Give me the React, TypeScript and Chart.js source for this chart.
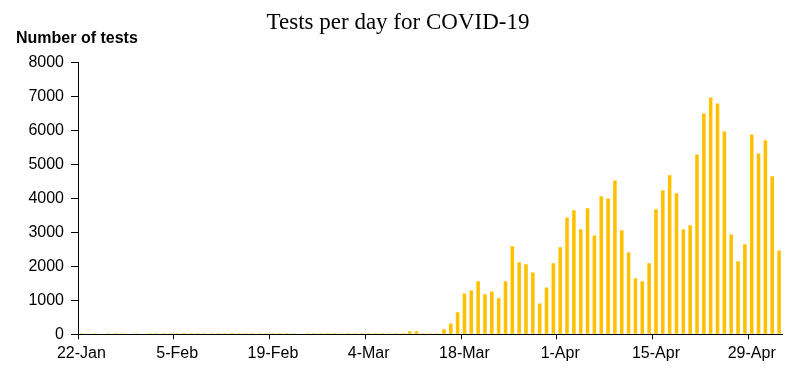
import React, { useEffect, useRef } from "react";
import { Chart, registerables } from "chart.js";

Chart.register(...registerables);

const chartTitle = "Tests per day for COVID-19";
const yAxisTitle = "Number of tests";

// Daily test counts, starting 22-Jan
const testsPerDay: number[] = [
  30, 0, 30, 0, 30, 30, 30, 0, 30, 0,
  30, 30, 30, 30, 30, 30, 30, 30, 30, 30,
  30, 30, 30, 30, 30, 30, 30, 30, 30, 30,
  30, 30, 0, 30, 30, 30, 30, 30, 30, 30,
  30, 30, 30, 30, 30, 30, 30, 30, 90, 90,
  30, 30, 30, 150, 320, 650, 1200, 1290, 1560, 1180,
  1260, 1060, 1560, 2590, 2120, 2060, 1820, 910, 1380, 2090,
  2560, 3440, 3650, 3090, 3710, 2910, 4060, 4000, 4530, 3060,
  2410, 1650, 1560, 2090, 3680, 4240, 4680, 4150, 3090, 3210,
  5290, 6500, 6970, 6790, 5970, 2940, 2150, 2650, 5880, 5320,
  5710, 4650, 2470,
];

const tickLabels = ["22-Jan", "5-Feb", "19-Feb", "4-Mar", "18-Mar", "1-Apr", "15-Apr", "29-Apr"];
const yTicks = [0, 1000, 2000, 3000, 4000, 5000, 6000, 7000, 8000];

const monthNames = ["Jan", "Feb", "Mar", "Apr", "May", "Jun", "Jul", "Aug", "Sep", "Oct", "Nov", "Dec"];
const categories: string[] = testsPerDay.map((_, i) => {
  const d = new Date(2020, 0, 22 + i);
  return `${d.getDate()}-${monthNames[d.getMonth()]}`;
});

const headerPlugin = {
  id: "headerText",
  afterDraw(chart: any) {
    const ctx = chart.ctx;
    ctx.save();
    ctx.fillStyle = "#000";
    ctx.font = '23px "Liberation Serif", "Times New Roman", serif';
    ctx.textAlign = "center";
    ctx.textBaseline = "alphabetic";
    ctx.fillText(chartTitle, 398, 29);
    ctx.font = 'bold 16px "Liberation Sans", Arial, sans-serif';
    ctx.textAlign = "left";
    ctx.fillText(yAxisTitle, 16, 43);
    ctx.restore();
  },
};

export default function App() {
  const canvasRef = useRef<HTMLCanvasElement | null>(null);

  useEffect(() => {
    document.body.style.margin = "0";
    const canvas = canvasRef.current;
    if (!canvas) return;
    const font = { family: '"Liberation Sans", Arial, sans-serif', size: 16 };
    const chart = new Chart(canvas, {
      type: "bar",
      data: {
        labels: categories,
        datasets: [
          {
            data: testsPerDay,
            backgroundColor: "#FFC000",
            borderWidth: 0,
            barPercentage: 0.52,
            categoryPercentage: 1,
          },
        ],
      },
      plugins: [headerPlugin],
      options: {
        responsive: false,
        animation: false,
        devicePixelRatio: 1,
        layout: { padding: { left: 16, right: 18.5, top: 62.5, bottom: 10.5 } },
        plugins: {
          legend: { display: false },
          title: { display: false },
          tooltip: { enabled: false },
        },
        scales: {
          x: {
            type: "category",
            offset: true,
            grid: {
              display: true,
              drawOnChartArea: false,
              drawTicks: true,
              tickLength: 5,
              offset: true,
              lineWidth: 1,
              color: (c: any) => (c.index % 14 === 0 ? "#000" : "rgba(0,0,0,0)"),
              tickColor: (c: any) => (c.index % 14 === 0 ? "#000" : "rgba(0,0,0,0)"),
            },
            border: { display: true, color: "#000", width: 1 },
            ticks: {
              autoSkip: false,
              maxRotation: 0,
              minRotation: 0,
              padding: 5,
              color: "#000",
              font,
              callback: (_v: any, idx: number) =>
                tickLabels.includes(categories[idx]) ? categories[idx] : "",
            },
          },
          y: {
            min: yTicks[0],
            max: yTicks[yTicks.length - 1],
            afterFit: (scale: any) => {
              scale.width = 62;
            },
            afterBuildTicks: (scale: any) => {
              scale.ticks = yTicks.map((v) => ({ value: v }));
            },
            grid: {
              display: true,
              drawOnChartArea: false,
              drawTicks: true,
              tickLength: 7,
              color: "#000",
              tickColor: "#000",
            },
            border: { display: true, color: "#000", width: 1 },
            ticks: {
              padding: 7,
              color: "#000",
              font,
              callback: (v: any) => String(v),
            },
          },
        },
      },
    });
    return () => chart.destroy();
  }, []);

  return (
    <div style={{ width: 801, height: 379 }}>
      <canvas ref={canvasRef} width={801} height={379} style={{ display: "block" }} />
    </div>
  );
}
